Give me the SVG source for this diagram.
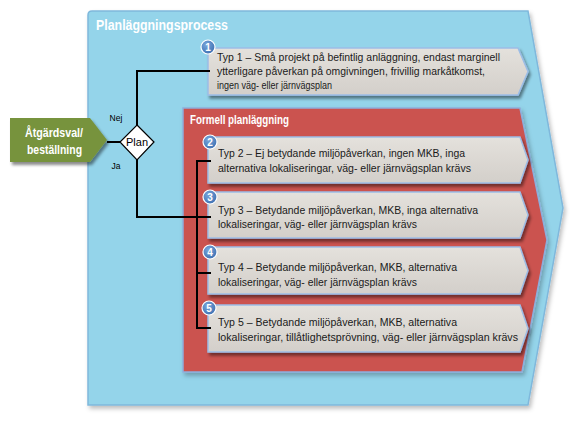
<svg xmlns="http://www.w3.org/2000/svg" width="576" height="426" viewBox="0 0 576 426">
<defs>
<style>
.t{font-family:"Liberation Sans",Arial,sans-serif;font-size:10.5px;fill:#1a1a1a}
.w{font-family:"Liberation Sans",Arial,sans-serif;font-weight:bold;fill:#fff}
.box{fill:url(#gg);stroke:#9dbde6;stroke-width:1.5}
.num{font-family:"Liberation Sans",Arial,sans-serif;font-weight:bold;font-size:10px;fill:#fff;text-anchor:middle}
.bd{fill:url(#bg);stroke:#fff;stroke-width:1.2}
.ln{fill:none;stroke:#000;stroke-width:2}
</style>
<linearGradient id="gg" x1="0" y1="0" x2="0" y2="1">
<stop offset="0" stop-color="#e4e1dc"/><stop offset="1" stop-color="#d3cfca"/>
</linearGradient>
<radialGradient id="bg" cx="0.4" cy="0.35" r="0.7">
<stop offset="0" stop-color="#7aa7dc"/><stop offset="1" stop-color="#3c6eb0"/>
</radialGradient>
<filter id="sh" x="-10%" y="-10%" width="130%" height="140%">
<feDropShadow dx="2" dy="3" stdDeviation="1.5" flood-color="#000" flood-opacity="0.45"/>
</filter>
<filter id="sh2" x="-10%" y="-10%" width="130%" height="140%">
<feDropShadow dx="2" dy="3" stdDeviation="2" flood-color="#000" flood-opacity="0.25"/>
</filter>
</defs>

<g id="planlaggningsprocess">
<path d="M88,15 Q88,11 92,11 L528,11 L563,208 L528,405 L88,405 Z" fill="#94d4ea" stroke="#7fb8dc" stroke-width="1.5" filter="url(#sh2)"/>
<text class="w" x="96" y="30" font-size="14" textLength="132" lengthAdjust="spacingAndGlyphs">Planläggningsprocess</text>
</g>

<g id="formell">
<path d="M183,108 L520,108 L547,240 L522,372 L183,372 Z" fill="#cb5250" stroke="#8eaedb" stroke-width="1.5" filter="url(#sh2)"/>
<text class="w" x="190" y="124" font-size="12" textLength="99" lengthAdjust="spacingAndGlyphs">Formell planläggning</text>
</g>

<g id="atgardsval">
<path d="M10,118 L90,118 L107,140 L90,162 L10,162 Z" fill="#77933c" filter="url(#sh)"/>
<text class="w" x="25" y="137" font-size="12" textLength="58" lengthAdjust="spacingAndGlyphs">Åtgärdsval/</text>
<text class="w" x="27" y="154" font-size="12" textLength="55" lengthAdjust="spacingAndGlyphs">beställning</text>
</g>

<g id="plan">
<path d="M137,125 L154,142 L137,160 L120,142 Z" fill="#fff" stroke="#000" stroke-width="1.2"/>
<text x="137" y="146" font-family="Liberation Sans,Arial,sans-serif" font-size="11" text-anchor="middle" fill="#000">Plan</text>
</g>

<g id="typ1">
<path class="box" d="M208,48 L518,48 L528,71.5 L518,95 L208,95 Z" filter="url(#sh)"/>
<text class="t" x="217" y="61" textLength="283" lengthAdjust="spacingAndGlyphs">Typ 1 – Små projekt på befintlig anläggning, endast marginell</text>
<text class="t" x="217" y="75" textLength="268" lengthAdjust="spacingAndGlyphs">ytterligare påverkan på omgivningen, frivillig markåtkomst,</text>
<text class="t" x="217" y="89" textLength="115" lengthAdjust="spacingAndGlyphs">ingen väg- eller järnvägsplan</text>
<circle class="bd" cx="208" cy="47" r="7"/><text class="num" x="208" y="50.5">1</text>
</g>

<g id="typ2">
<path class="box" d="M208,137 L520,137 L528,160 L520,183 L208,183 Z" filter="url(#sh)"/>
<text class="t" x="218" y="157" textLength="247" lengthAdjust="spacingAndGlyphs">Typ 2 – Ej betydande miljöpåverkan, ingen MKB, inga</text>
<text class="t" x="218" y="172" textLength="253" lengthAdjust="spacingAndGlyphs">alternativa lokaliseringar, väg- eller järnvägsplan krävs</text>
<circle class="bd" cx="210" cy="142" r="7"/><text class="num" x="210" y="145.5">2</text>
</g>

<g id="typ3">
<path class="box" d="M208,192 L520,192 L528,215 L520,238 L208,238 Z" filter="url(#sh)"/>
<text class="t" x="218" y="214" textLength="260" lengthAdjust="spacingAndGlyphs">Typ 3 – Betydande miljöpåverkan, MKB, inga alternativa</text>
<text class="t" x="218" y="228" textLength="199" lengthAdjust="spacingAndGlyphs">lokaliseringar, väg- eller järnvägsplan krävs</text>
<circle class="bd" cx="210" cy="197" r="7"/><text class="num" x="210" y="200.5">3</text>
</g>

<g id="typ4">
<path class="box" d="M208,247 L520,247 L528,270.5 L520,294 L208,294 Z" filter="url(#sh)"/>
<text class="t" x="218" y="271" textLength="239" lengthAdjust="spacingAndGlyphs">Typ 4 – Betydande miljöpåverkan, MKB, alternativa</text>
<text class="t" x="218" y="286" textLength="199" lengthAdjust="spacingAndGlyphs">lokaliseringar, väg- eller järnvägsplan krävs</text>
<circle class="bd" cx="210" cy="252" r="7"/><text class="num" x="210" y="255.5">4</text>
</g>

<g id="typ5">
<path class="box" d="M208,305 L520,305 L528,328.5 L520,352 L208,352 Z" filter="url(#sh)"/>
<text class="t" x="218" y="326" textLength="239" lengthAdjust="spacingAndGlyphs">Typ 5 – Betydande miljöpåverkan, MKB, alternativa</text>
<text class="t" x="218" y="341" textLength="300" lengthAdjust="spacingAndGlyphs">lokaliseringar, tillåtlighetsprövning, väg- eller järnvägsplan krävs</text>
<circle class="bd" cx="209" cy="308" r="7"/><text class="num" x="209" y="311.5">5</text>
</g>

<g id="connectors">
<path class="ln" d="M107,142 H120"/>
<path class="ln" d="M137,125 V71 H210"/>
<path class="ln" d="M137,160 V217 H211"/>
<path class="ln" d="M211,161 H197 V328 H211"/>
<path class="ln" d="M197,273 H211"/>
<text x="116" y="121" font-family="Liberation Sans,Arial,sans-serif" font-size="8.5" text-anchor="middle" fill="#000">Nej</text>
<text x="116" y="169" font-family="Liberation Sans,Arial,sans-serif" font-size="8.5" text-anchor="middle" fill="#000">Ja</text>
</g>
</svg>
